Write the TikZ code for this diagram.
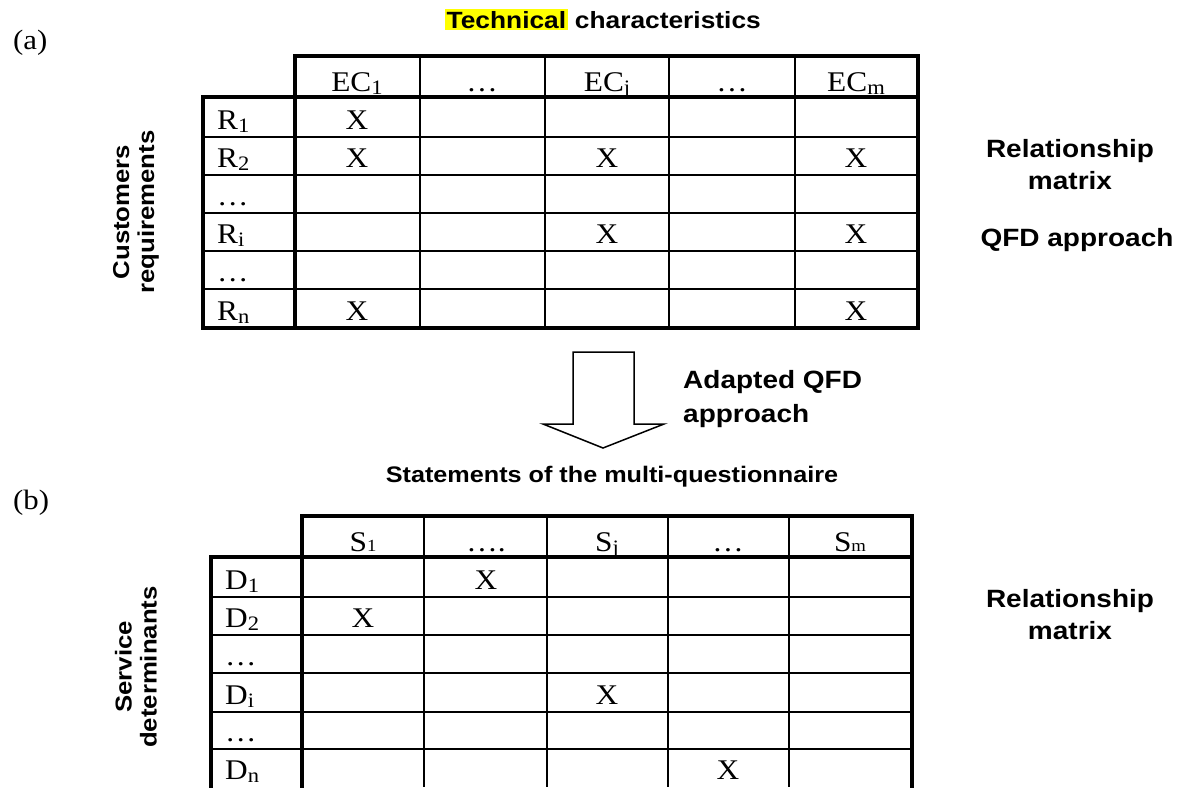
\documentclass[tikz,border=0pt]{standalone}
\usepackage{fontspec}
\setmainfont[FakeStretch=1.1]{Liberation Serif}
\newfontfamily\arial[FakeStretch=1.12]{Liberation Sans}
\definecolor{hl}{RGB}{255,255,0}
\newcommand{\cellfont}{\fontsize{28.5}{30}\selectfont}
\newcommand{\lblfont}{\arial\bfseries\fontsize{25}{28}\selectfont}
\newcommand{\midfont}{\arial\bfseries\fontsize{23.5}{26}\selectfont}
\newcommand{\sidefont}{\arial\bfseries\fontsize{23}{25}\selectfont}
\newcommand{\lowsub}[1]{\raisebox{-3pt}{\fontsize{20.5}{20}\selectfont #1}}
\newcommand{\flatsub}[1]{{\fontsize{17}{17}\selectfont #1}}
\begin{document}
\begin{tikzpicture}[x=1pt,y=-1pt,
  outer/.style={line width=4pt, line cap=rect},
  inner/.style={line width=1.8pt},
  cell/.style={font=\cellfont, anchor=base, inner sep=0pt},
  rowlab/.style={font=\cellfont, anchor=base west, inner sep=0pt},
  lbl/.style={font=\lblfont, align=center, inner sep=0pt},
  arrowshape/.style={draw, line width=1.5pt, line join=miter, fill=white}]
\useasboundingbox (0,0) rectangle (1183,787);

% ---------- titles ----------
\setlength{\fboxsep}{1.5pt}
\node[font=\midfont, anchor=base, inner sep=0pt] (tech) at (603,28) {\colorbox{hl}{Technical} characteristics};
\node[font=\fontsize{28}{30}\selectfont, anchor=base west, inner sep=0pt] (pa) at (13,49) {(a)};
\node[font=\fontsize{28}{30}\selectfont, anchor=base west, inner sep=0pt] (pb) at (13,509) {(b)};

% ---------- top table ----------
\foreach \y in {137,175,213,251,289} \draw[inner] (203,\y) -- (918,\y);
\foreach \x in {420,545,669,795} \draw[inner] (\x,56) -- (\x,328);
\draw[outer] (295,328) -- (295,56) -- (918,56) -- (918,328) -- (203,328) -- (203,97) -- (918,97);

\node[cell] (ec1) at (357,91) {EC\lowsub{1}};
\node[cell] (ecd1) at (482,91) {…};
\node[cell] (ecj) at (607,91) {EC\lowsub{j}};
\node[cell] (ecd2) at (732,91) {…};
\node[cell] (ecm) at (856,91) {EC\lowsub{m}};

\node[rowlab] (r1) at (217,129) {R\lowsub{1}};
\node[rowlab] (r2) at (217,167) {R\lowsub{2}};
\node[rowlab] (rd1) at (217,205) {…};
\node[rowlab] (ri) at (217,243) {R\lowsub{i}};
\node[rowlab] (rd2) at (217,281) {…};
\node[rowlab] (rn) at (217,320) {R\lowsub{n}};

\node[cell] (x11) at (357,129) {X};
\node[cell] (x21) at (357,167) {X};
\node[cell] (x23) at (607,167) {X};
\node[cell] (x25) at (856,167) {X};
\node[cell] (xi3) at (607,243) {X};
\node[cell] (xi5) at (856,243) {X};
\node[cell] (xn1) at (357,320) {X};
\node[cell] (xn5) at (856,320) {X};

\node[font=\sidefont, align=center, inner sep=0pt, rotate=90] (cust) at (136,212) {Customers\\requirements};
\node[lbl, anchor=base] (rel1) at (1070,157) {Relationship};
\node[lbl, anchor=base] (mat1) at (1070,189) {matrix};
\node[lbl, anchor=base] (qfd) at (1077,246) {QFD approach};

% ---------- block arrow ----------
\draw[arrowshape] (573,352) -- (634,352) -- (634,424) -- (664,424) -- (603,448) -- (543,424) -- (573,424) -- cycle;
\node[lbl, anchor=base west, align=left] (adq) at (683,388) {Adapted QFD};
\node[lbl, anchor=base west, align=left] (appr) at (683,422) {approach};

\node[font=\arial\bfseries\fontsize{22.5}{26}\selectfont, anchor=base, inner sep=0pt] (stat) at (612,482) {Statements of the multi-questionnaire};

% ---------- bottom table ----------
\foreach \y in {597,635,673,712,749} \draw[inner] (211,\y) -- (912,\y);
\foreach \x in {424,547,668,789} \draw[inner] (\x,516) -- (\x,787);
\draw[outer] (302,787) -- (302,516) -- (912,516) -- (912,787);
\draw[outer] (211,787) -- (211,557) -- (912,557);

\node[cell] (s1) at (363,551) {S\flatsub{1}};
\node[cell] (sd1) at (486,551) {….};
\node[cell] (sj) at (607,551) {S\lowsub{j}};
\node[cell] (sd2) at (728,551) {…};
\node[cell] (sm) at (850,551) {S\flatsub{m}};

\node[rowlab] (d1) at (225,589) {D\lowsub{1}};
\node[rowlab] (d2) at (225,627) {D\lowsub{2}};
\node[rowlab] (dd1) at (225,665) {…};
\node[rowlab] (di) at (225,704) {D\lowsub{i}};
\node[rowlab] (dd2) at (225,741) {…};
\node[rowlab] (dn) at (225,779) {D\lowsub{n}};

\node[cell] (y12) at (486,589) {X};
\node[cell] (y21) at (363,627) {X};
\node[cell] (yi3) at (607,704) {X};
\node[cell] (yn4) at (728,779) {X};

\node[font=\sidefont, align=center, inner sep=0pt, rotate=90] (serv) at (136,667) {Service\\determinants};
\node[lbl, anchor=base] (rel2) at (1070,607) {Relationship};
\node[lbl, anchor=base] (mat2) at (1070,639) {matrix};
\end{tikzpicture}
\end{document}
